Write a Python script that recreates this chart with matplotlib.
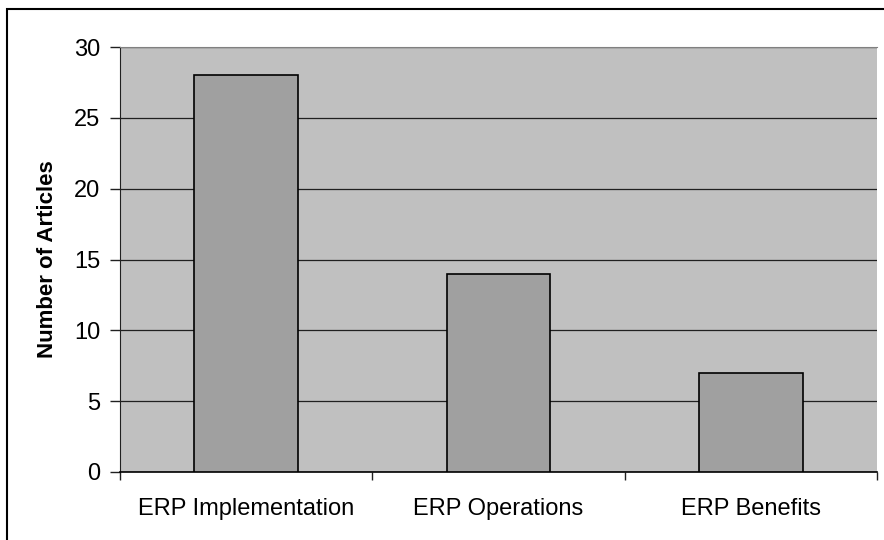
import matplotlib
matplotlib.use("Agg")
import matplotlib.pyplot as plt
from matplotlib.patches import Rectangle

# Données du graphique
categories = ["ERP Implementation", "ERP Operations", "ERP Benefits"]
articles = [28, 14, 7]
y_ticks = [0, 5, 10, 15, 20, 25, 30]

plt.rcParams['font.family'] = ['Liberation Sans', 'DejaVu Sans']

fig = plt.figure(figsize=(8.84, 5.4), dpi=100)
ax = fig.add_axes([120 / 884, 1 - 472 / 540, 757 / 884, 425 / 540])

# Fond gris de la zone de tracé
ax.set_facecolor('#c0c0c0')

x = list(range(len(categories)))
ax.bar(x, articles, width=0.41, color='#a0a0a0', edgecolor='black',
       linewidth=1.2, zorder=3)

ax.set_xlim(-0.5, len(categories) - 0.5)
ax.set_ylim(0, 30)
ax.set_yticks(y_ticks)
ax.yaxis.grid(True, color='#202020', linewidth=0.9, zorder=1)

# Graduations x entre les catégories
ax.set_xticks([i - 0.5 for i in range(len(categories) + 1)])
ax.set_xticklabels([])
ax.set_xticks(x, minor=True)
ax.set_xticklabels(categories, minor=True, fontsize=17)
ax.tick_params(axis='x', which='minor', length=0, pad=19)
ax.tick_params(axis='x', which='major', length=6, width=1, color='#202020')
ax.tick_params(axis='y', length=7, width=1, pad=7, labelsize=17, color='#202020')

ax.set_ylabel('Number of Articles', fontsize=16, fontweight='bold', labelpad=12)

ax.spines['right'].set_visible(False)
ax.spines['top'].set_color('#808080')
ax.spines['left'].set_color('#202020')
ax.spines['bottom'].set_color('black')
ax.spines['bottom'].set_linewidth(1.2)

# Cadre autour du graphique
fig.patches.append(Rectangle((7 / 884, -0.5), 2, 1.5 - 9 / 540, transform=fig.transFigure,
                             fill=False, edgecolor='black', linewidth=1.5))

plt.savefig("out.png", dpi=100)
